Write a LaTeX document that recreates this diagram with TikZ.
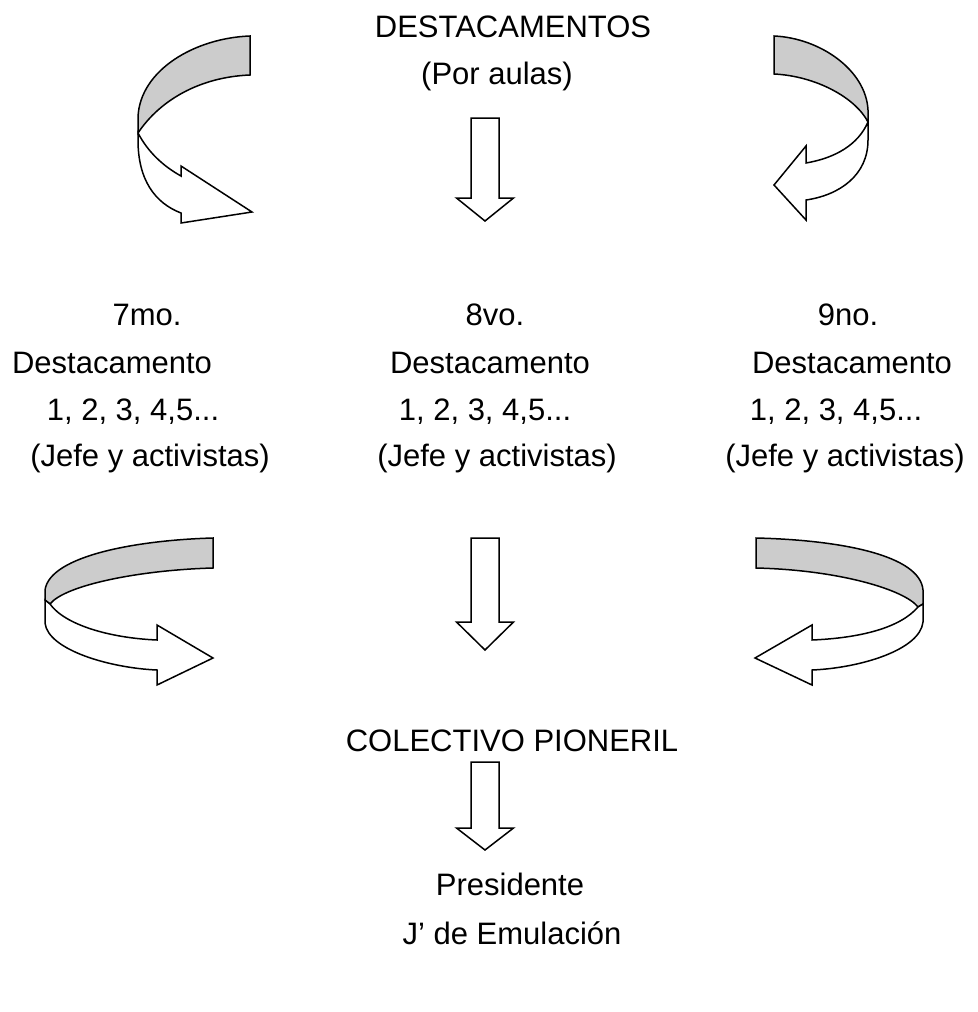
\documentclass[tikz,border=0pt]{standalone}
\usepackage{fontspec}
\setmainfont{Liberation Sans}
\usetikzlibrary{positioning}
\definecolor{ribbon}{RGB}{204,204,204}
\tikzset{
    lbl/.style={anchor=base, inner sep=0pt, font=\fontsize{15.5}{18}\selectfont},
    outl/.style={draw=black, line width=0.75pt, line join=miter},
}
\newcommand{\blockdown}[4]{% x, top, head, tip
    \draw[outl, fill=white] (#1-14,#2) -- (#1+14,#2) -- (#1+14,#3) -- (#1+28.5,#3)
        -- (#1,#4) -- (#1-28.5,#3) -- (#1-14,#3) -- cycle;
}
\begin{document}
\begin{tikzpicture}[x=0.5pt, y=-0.5pt]
    \useasboundingbox (0,0) rectangle (978,1012);

    % texts
    \node[lbl] (title) at (513,38) {DESTACAMENTOS};
    \node[lbl] (aulas) at (497,84) {(Por aulas)};

    \node[lbl] (g7) at (147,325) {7mo.};
    \node[lbl] (g8) at (495,325) {8vo.};
    \node[lbl] (g9) at (848,325) {9no.};

    \node[lbl] (d7) at (112,373) {Destacamento};
    \node[lbl] (d8) at (490,373) {Destacamento};
    \node[lbl] (d9) at (852,373) {Destacamento};

    \node[lbl] (n7) at (133,420) {1, 2, 3, 4,5...};
    \node[lbl] (n8) at (485,420) {1, 2, 3, 4,5...};
    \node[lbl] (n9) at (836,420) {1, 2, 3, 4,5...};

    \node[lbl] (j7) at (150,466) {(Jefe y activistas)};
    \node[lbl] (j8) at (497,466) {(Jefe y activistas)};
    \node[lbl] (j9) at (845,466) {(Jefe y activistas)};

    \node[lbl] (colectivo) at (512,751) {COLECTIVO PIONERIL};
    \node[lbl] (pres) at (510,895) {Presidente};
    \node[lbl] (emul) at (512,944) {J’ de Emulación};

    % straight block arrows
    \blockdown{485}{118}{198}{221}
    \blockdown{485}{538}{622}{650}
    \blockdown{485}{762}{828}{850}

    % top left ribbon
    \draw[outl, fill=ribbon] (250,36) .. controls (195,38) and (140,70) .. (138,117)
        -- (138,133) .. controls (160,100) and (200,77) .. (250,75) -- cycle;
    \draw[outl, fill=white] (138,133) -- (138,140) .. controls (138,180) and (155,203) .. (181,213)
        -- (181,223) -- (252,212) -- (181,166) -- (181,176)
        .. controls (163,166) and (148,152) .. (138,133) -- cycle;

    % top right ribbon
    \draw[outl, fill=ribbon] (774,36) .. controls (820,38) and (866,70) .. (868,110)
        -- (868,122) .. controls (855,97) and (815,76) .. (774,74) -- cycle;
    \draw[outl, fill=white] (868,122) -- (868,140) .. controls (868,175) and (840,195) .. (806,200)
        -- (806,220) -- (774,185) -- (806,146) -- (806,163)
        .. controls (835,158) and (858,145) .. (868,122) -- cycle;

    % bottom left ribbon
    \draw[outl, fill=ribbon] (213,538) .. controls (140,540) and (50,555) .. (45,590)
        -- (45,600) -- (50,604) .. controls (65,585) and (140,570) .. (213,568) -- cycle;
    \draw[outl, fill=white] (45,600) -- (45,623) .. controls (48,650) and (110,668) .. (157,670)
        -- (157,685) -- (213,658) -- (157,625) -- (157,640)
        .. controls (110,638) and (65,625) .. (50,604) -- cycle;

    % bottom right ribbon
    \draw[outl, fill=ribbon] (756,538) .. controls (840,540) and (920,555) .. (923,590)
        -- (923,604) -- (918,607) .. controls (905,590) and (840,570) .. (756,568) -- cycle;
    \draw[outl, fill=white] (923,604) -- (923,622) .. controls (920,650) and (860,668) .. (812,670)
        -- (812,685) -- (755,658) -- (812,625) -- (812,640)
        .. controls (860,638) and (900,628) .. (918,607) -- cycle;
\end{tikzpicture}
\end{document}
